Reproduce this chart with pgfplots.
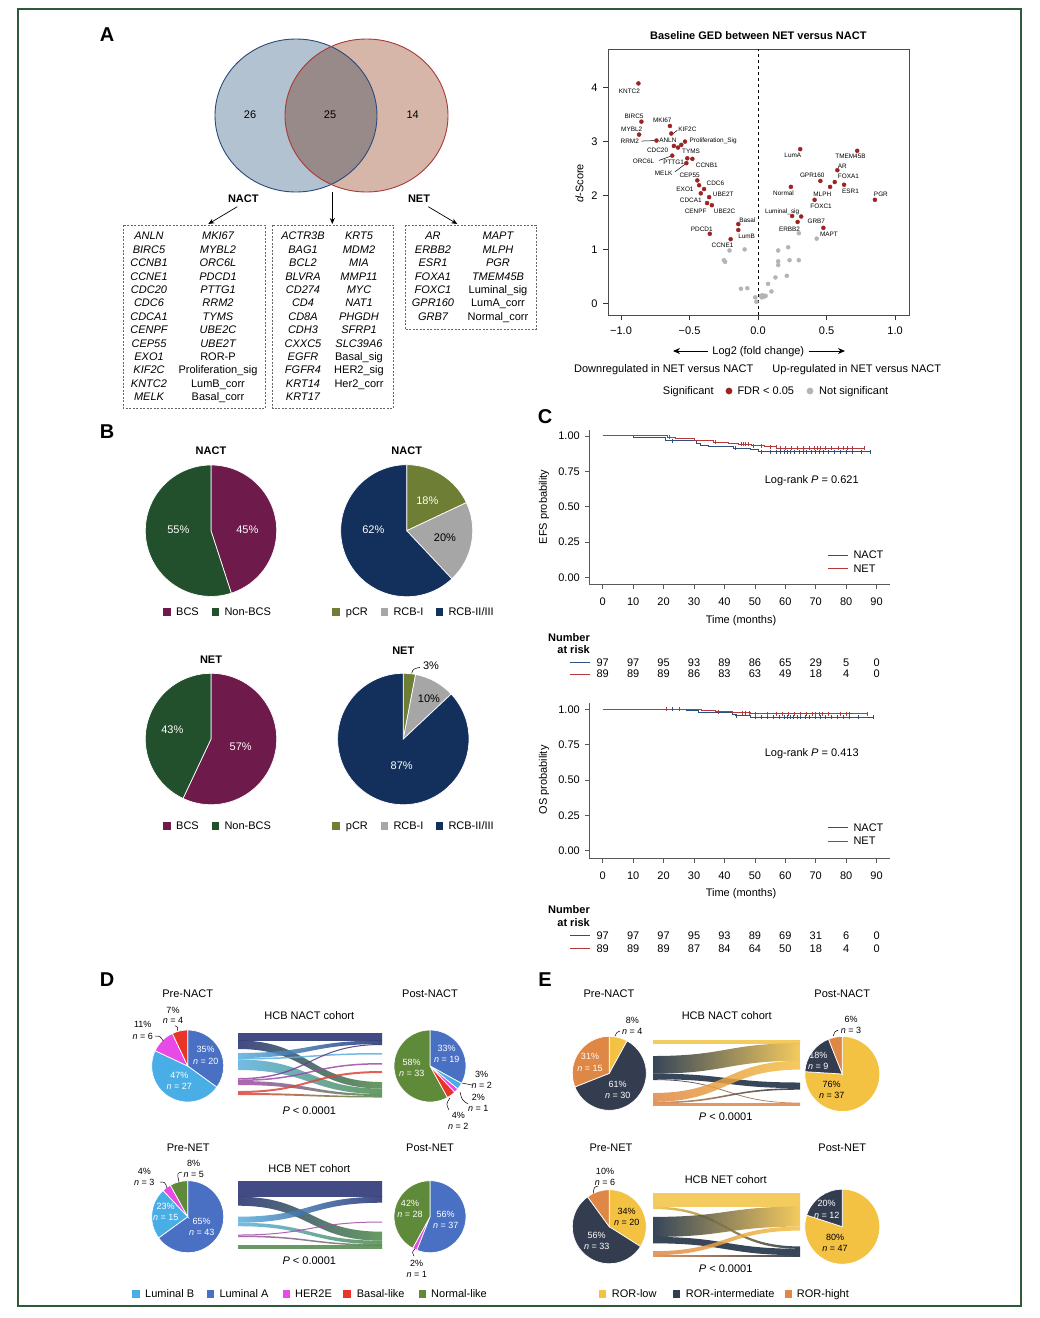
\documentclass[border=0pt]{standalone}
\usepackage{pgfplots}
\pgfplotsset{compat=1.18}
\usepackage{fontspec}
\setmainfont{Liberation Sans}
\usetikzlibrary{arrows.meta}
\definecolor{frameg}{HTML}{2F5A3A}
\definecolor{venL}{HTML}{B3C2D0}
\definecolor{venR}{HTML}{D6B6A8}
\definecolor{venI}{HTML}{988A88}
\definecolor{venLe}{HTML}{2A4A7A}
\definecolor{venRe}{HTML}{A83A3A}
\definecolor{sigred}{HTML}{9B2423}
\definecolor{nsgrey}{HTML}{B4B4B4}
\definecolor{kmblue}{HTML}{2F4F7F}
\definecolor{kmred}{HTML}{B23A3A}
\definecolor{bcs}{HTML}{6E1A4B}
\definecolor{nonbcs}{HTML}{22502D}
\definecolor{pcr}{HTML}{6E7E35}
\definecolor{rcbi}{HTML}{A6A6A6}
\definecolor{rcbii}{HTML}{13305D}
\definecolor{lumb}{HTML}{4AAEE6}
\definecolor{luma}{HTML}{4A70C4}
\definecolor{hertwo}{HTML}{E84AE8}
\definecolor{basal}{HTML}{E8352A}
\definecolor{normal}{HTML}{5E8A3A}
\definecolor{sLA}{HTML}{222C6E}
\definecolor{sLB}{HTML}{5AB0E0}
\definecolor{sH}{HTML}{A24AA6}
\definecolor{sB}{HTML}{E0453A}
\definecolor{sN}{HTML}{4E8A48}
\definecolor{rlow}{HTML}{F3C243}
\definecolor{rint}{HTML}{343D4F}
\definecolor{rhigh}{HTML}{DF8745}
\definecolor{sint}{HTML}{14263D}
\newcommand{\fs}[1]{\fontsize{#1}{#1}\selectfont}
% pie wedge: cx, cy(image), r, p1, p2, colour
\newcommand{\pw}[6]{\fill[#6, draw=white, line width=0.7pt] (#1,-#2) -- ++({90-3.6*(#4)}:#3) arc[start angle={90-3.6*(#4)}, end angle={90-3.6*(#5)}, radius=#3] -- cycle;}
% sankey flow: x0, x1, a1, a2, b1, b2, colL, colR  (image y)
\newcommand{\flow}[8]{\pgfmathsetmacro\xm{(#1+#2)/2}\shade[left color=#7, right color=#8, fill opacity=0.85] (#1,-#3) .. controls (\xm,-#3) and (\xm,-#5) .. (#2,-#5) -- (#2,-#6) .. controls (\xm,-#6) and (\xm,-#4) .. (#1,-#4) -- cycle;}
\newcommand{\lsq}[3]{\fill[#3] (#1,{-#2+3.7}) rectangle ++(7.4,-7.4);}
\tikzset{
 T11/.style={font={\fs{11}}, inner sep=0pt, text height=7.9pt, text depth=0pt},
 T11b/.style={font={\bfseries\fs{11}}, inner sep=0pt, text height=7.9pt, text depth=0pt},
 T9/.style={font={\fs{9}}, inner sep=0pt, text height=6.45pt, text depth=0pt},
 T6/.style={font={\fs{6.4}}, inner sep=0pt, text height=4.6pt, text depth=0pt},
 T20/.style={font={\bfseries\fs{20}}, inner sep=0pt, text height=14.3pt, text depth=0pt},
}
\newcommand{\glist}[2]{\foreach \g [count=\i from 0] in {#2} {\node[T11, font={\fs{11}\itshape}] at (#1,{-236-13.39*\i}) {\g};}}
\begin{document}
\begin{tikzpicture}[x=1pt,y=1pt]
\path[use as bounding box] (0,0) rectangle (1040,-1318);
\fill[white] (0,0) rectangle (1040,-1318);
\draw[frameg, line width=2pt] (18,-9) rectangle (1021,-1306);
% panel letters
\node[T20] at (107,-34) {A};
\node[T20] at (107,-431) {B};
\node[T20] at (545,-416) {C};
\node[T20] at (107,-979) {D};
\node[T20] at (545,-979) {E};
% ---------------- Venn
\fill[venL] (296,-115.5) ellipse [x radius=81, y radius=76.5];
\fill[venR] (366.5,-115.5) ellipse [x radius=81.5, y radius=76.5];
\begin{scope}
\clip (296,-115.5) ellipse [x radius=81, y radius=76.5];
\fill[venI] (366.5,-115.5) ellipse [x radius=81.5, y radius=76.5];
\end{scope}
\draw[venLe, line width=0.9pt] (296,-115.5) ellipse [x radius=81, y radius=76.5];
\draw[venRe, line width=0.9pt] (366.5,-115.5) ellipse [x radius=81.5, y radius=76.5];
\node[T11] at (250,-114.3) {26};
\node[T11] at (330,-114.3) {25};
\node[T11] at (412.7,-114.3) {14};
\node[T11b] at (243.3,-198.3) {NACT};
\node[T11b] at (419,-198.3) {NET};
\draw[-{Stealth[length=6pt,width=5pt]}, line width=0.7pt] (237.3,-206.7) -- (208.3,-224);
\draw[-{Stealth[length=6pt,width=5pt]}, line width=0.7pt] (332.3,-191.7) -- (332.3,-224);
\draw[-{Stealth[length=6pt,width=5pt]}, line width=0.7pt] (428.3,-206.7) -- (457.3,-224);
\draw[black!60, dash pattern=on 2pt off 1.5pt, line width=0.8pt] (123.3,-225) rectangle (265,-408.3);
\draw[black!60, dash pattern=on 2pt off 1.5pt, line width=0.8pt] (272.7,-225) rectangle (393.3,-408.3);
\draw[black!60, dash pattern=on 2pt off 1.5pt, line width=0.8pt] (405,-225) rectangle (536,-329.3);
\glist{149}{ANLN,BIRC5,CCNB1,CCNE1,CDC20,CDC6,CDCA1,CENPF,CEP55,EXO1,KIF2C,KNTC2,MELK}
\glist{218}{MKI67,MYBL2,ORC6L,PDCD1,PTTG1,RRM2,TYMS,UBE2C,UBE2T,{\upshape ROR-P},{\upshape Proliferation\_sig},{\upshape LumB\_corr},{\upshape Basal\_corr}}
\glist{303}{ACTR3B,BAG1,BCL2,BLVRA,CD274,CD4,CD8A,CDH3,CXXC5,EGFR,FGFR4,KRT14,KRT17}
\glist{359}{KRT5,MDM2,MIA,MMP11,MYC,NAT1,PHGDH,SFRP1,SLC39A6,{\upshape Basal\_sig},{\upshape HER2\_sig},{\upshape Her2\_corr}}
\glist{433}{AR,ERBB2,ESR1,FOXA1,FOXC1,GPR160,GRB7}
\glist{498}{MAPT,MLPH,PGR,TMEM45B,{\upshape Luminal\_sig},{\upshape LumA\_corr},{\upshape Normal\_corr}}
% ---------------- Volcano
\node[T11b] at (758.3,-36) {Baseline GED between NET versus NACT};
\begin{axis}[at={(608pt,-315pt)}, anchor=south west, scale only axis, width=301pt, height=266pt,
 xmin=-1.095, xmax=1.102, ymin=-0.217, ymax=4.718,
 xtick={-1,-0.5,0,0.5,1}, xticklabels={−1.0,−0.5,0.0,0.5,1.0},
 ytick={0,1,2,3,4}, yticklabels={0,1,2,3,4}, tick pos=left,
 tick align=outside, major tick length=5pt,
 axis line style={black!70, line width=0.8pt}, tick style={black!80, line width=0.7pt},
 ticklabel style={font={\fs{11}}}, xticklabel style={yshift=-3.5pt}, yticklabel style={xshift=-2pt}, clip=false]
\addplot[dashed, black, line width=0.6pt] coordinates {(0,-0.217) (0,4.718)};
\addplot[only marks, mark=*, mark size=2pt, color=nsgrey] coordinates {
(-0.208,0.98)(-0.098,1.00)(-0.249,0.80)(-0.240,0.77)(-0.125,0.27)(-0.078,0.28)(-0.020,0.11)(-0.012,0.03)(0.022,0.14)(0.034,0.15)(0.027,0.11)(0.042,0.12)(0.056,0.14)(0.073,0.36)(0.098,0.22)(0.127,0.48)(0.147,0.98)(0.147,0.78)(0.147,0.71)(0.210,0.51)(0.220,1.04)(0.230,0.80)(0.298,1.30)(0.298,0.80)(0.428,1.20)};
\addplot[only marks, mark=*, mark size=2pt, color=sigred] coordinates {
(-0.873,4.08)(-0.851,3.37)(-0.868,3.13)(-0.643,3.29)(-0.633,3.15)(-0.741,3.02)(-0.533,3.00)(-0.560,2.94)(-0.614,2.92)(-0.584,2.89)(-0.626,2.74)(-0.516,2.69)(-0.479,2.68)(-0.523,2.60)(-0.443,2.28)(-0.430,2.19)(-0.394,2.12)(-0.418,2.04)(-0.357,1.97)(-0.372,1.86)(-0.337,1.82)(-0.144,1.47)(-0.144,1.36)(-0.352,1.29)(-0.200,1.19)
(0.308,2.86)(0.724,2.83)(0.579,2.47)(0.455,2.27)(0.560,2.25)(0.628,2.20)(0.240,2.16)(0.526,2.16)(0.853,1.92)(0.413,1.92)(0.249,1.62)(0.315,1.61)(0.289,1.51)(0.477,1.40)};
\draw[line width=0.5pt] (axis cs:-0.851,3.01) -- (axis cs:-0.741,3.02);
\draw[line width=0.5pt] (axis cs:-0.619,3.15) -- (axis cs:-0.589,3.21);
\draw[line width=0.5pt] (axis cs:-0.724,2.65) -- (axis cs:-0.626,2.74);
\draw[line width=0.5pt] (axis cs:-0.606,2.44) -- (axis cs:-0.523,2.60);
\node[T6] at (axis cs:-0.939,3.93) {KNTC2};
\node[T6] at (axis cs:-0.905,3.47) {BIRC5};
\node[T6] at (axis cs:-0.699,3.39) {MKI67};
\node[T6] at (axis cs:-0.516,3.23) {KIF2C};
\node[T6] at (axis cs:-0.922,3.23) {MYBL2};
\node[T6] at (axis cs:-0.936,3.00) {RRM2};
\node[T6] at (axis cs:-0.658,3.03) {ANLN};
\node[T6] at (axis cs:-0.328,3.02) {Proliferation\_Sig};
\node[T6] at (axis cs:-0.733,2.84) {CDC20};
\node[T6] at (axis cs:-0.489,2.82) {TYMS};
\node[T6] at (axis cs:-0.836,2.64) {ORC6L};
\node[T6] at (axis cs:-0.616,2.61) {PTTG1};
\node[T6] at (axis cs:-0.374,2.57) {CCNB1};
\node[T6] at (axis cs:-0.689,2.41) {MELK};
\node[T6] at (axis cs:-0.499,2.38) {CEP55};
\node[T6] at (axis cs:-0.311,2.22) {CDC6};
\node[T6] at (axis cs:-0.533,2.11) {EXO1};
\node[T6] at (axis cs:-0.254,2.03) {UBE2T};
\node[T6] at (axis cs:-0.491,1.91) {CDCA1};
\node[T6] at (axis cs:-0.455,1.71) {CENPF};
\node[T6] at (axis cs:-0.244,1.70) {UBE2C};
\node[T6] at (axis cs:-0.078,1.54) {Basal};
\node[T6] at (axis cs:-0.411,1.38) {PDCD1};
\node[T6] at (axis cs:-0.083,1.24) {LumB};
\node[T6] at (axis cs:-0.259,1.07) {CCNE1};
\node[T6] at (axis cs:0.254,2.74) {LumA};
\node[T6] at (axis cs:0.675,2.73) {TMEM45B};
\node[T6] at (axis cs:0.616,2.55) {AR};
\node[T6] at (axis cs:0.396,2.37) {GPR160};
\node[T6] at (axis cs:0.660,2.35) {FOXA1};
\node[T6] at (axis cs:0.675,2.08) {ESR1};
\node[T6] at (axis cs:0.186,2.04) {Normal};
\node[T6] at (axis cs:0.469,2.03) {MLPH};
\node[T6] at (axis cs:0.897,2.02) {PGR};
\node[T6] at (axis cs:0.460,1.81) {FOXC1};
\node[T6] at (axis cs:0.176,1.71) {Luminal\_sig};
\node[T6] at (axis cs:0.425,1.53) {GRB7};
\node[T6] at (axis cs:0.230,1.38) {ERBB2};
\node[T6] at (axis cs:0.518,1.28) {MAPT};
\end{axis}
\node[T11, rotate=90] at (579.3,-183.3) {\textit{d}-Score};
\draw[{Stealth[length=7pt,width=6pt]}-, line width=0.8pt] (673,-351) -- (708,-351);
\node[T11] at (758.3,-351) {Log2 (fold change)};
\draw[-{Stealth[length=7pt,width=6pt]}, line width=0.8pt] (808.5,-351) -- (845,-351);
\node[T11] at (663.7,-368.3) {Downregulated in NET versus NACT};
\node[T11] at (856.7,-368.3) {Up-regulated in NET versus NACT};
\node[T11] at (688.3,-391) {Significant};
\fill[sigred] (729,-391) circle (3.4);
\node[T11, anchor=west] at (737.3,-391) {FDR < 0.05};
\fill[nsgrey] (810,-391) circle (3.4);
\node[T11, anchor=west] at (819,-391) {Not significant};
% ---------------- Panel B pies
\node[T11b] at (211,-450.7) {NACT};
\node[T11b] at (406.7,-450.7) {NACT};
\node[T11b] at (211,-659.3) {NET};
\node[T11b] at (403.3,-651) {NET};
\pw{211}{530.7}{65.7}{0}{45}{bcs}
\pw{211}{530.7}{65.7}{45}{100}{nonbcs}
\pw{406.7}{530.7}{66}{0}{18}{pcr}
\pw{406.7}{530.7}{66}{18}{38}{rcbi}
\pw{406.7}{530.7}{66}{38}{100}{rcbii}
\pw{211}{739}{65.7}{0}{57}{bcs}
\pw{211}{739}{65.7}{57}{100}{nonbcs}
\pw{403.3}{739}{65.7}{0}{3}{pcr}
\pw{403.3}{739}{65.7}{3}{13}{rcbi}
\pw{403.3}{739}{65.7}{13}{100}{rcbii}
\node[T11, white] at (178.3,-530) {55\%};
\node[T11, white] at (247.3,-530) {45\%};
\node[T11, white] at (427.3,-501) {18\%};
\node[T11] at (445,-537.3) {20\%};
\node[T11, white] at (373.3,-530) {62\%};
\node[T11, white] at (172.3,-730) {43\%};
\node[T11, white] at (240.7,-746.7) {57\%};
\node[T11] at (431,-665.7) {3\%};
\draw[line width=0.5pt] (411.7,-673.3) .. controls (413,-669) .. (420,-667.3);
\node[T11] at (429,-699) {10\%};
\node[T11, white] at (401.7,-765.7) {87\%};
\foreach \yy in {612,826} {
 \lsq{163.3}{\yy}{bcs} \node[T11, anchor=west] at (176,-\yy) {BCS};
 \lsq{211.7}{\yy}{nonbcs} \node[T11, anchor=west] at (224.3,-\yy) {Non-BCS};
 \lsq{332.3}{\yy}{pcr} \node[T11, anchor=west] at (345.7,-\yy) {pCR};
 \lsq{381}{\yy}{rcbi} \node[T11, anchor=west] at (393.3,-\yy) {RCB-I};
 \lsq{435.7}{\yy}{rcbii} \node[T11, anchor=west] at (448.3,-\yy) {RCB-II/III};
}
% ---------------- Panel C: EFS
\begin{axis}[at={(589.3pt,-584.3pt)}, anchor=south west, scale only axis, width=300.7pt, height=154.3pt,
 xmin=-4.4, xmax=94.4, ymin=-0.0495, ymax=1.042,
 axis x line*=bottom, axis y line*=left, axis line style={-, black!65, line width=0.8pt},
 xtick={0,10,20,30,40,50,60,70,80,90}, xticklabels={0,10,20,30,40,50,60,70,80,90},
 ytick={0,0.25,0.5,0.75,1}, yticklabels={0.00,0.25,0.50,0.75,1.00},
 tick align=outside, major tick length=4.5pt, tick style={black!65, line width=0.7pt},
 ticklabel style={font={\fs{11}}}, xticklabel style={yshift=-5.5pt}, yticklabel style={xshift=-1.5pt}, clip=false]
\addplot[const plot, kmblue, line width=0.9pt] coordinates {(0,1)(10,0.988)(20.7,0.965)(30.9,0.948)(32,0.934)(34.7,0.925)(43,0.913)(48.5,0.901)(51.3,0.889)(88,0.889)};
\addplot[const plot, kmred, line width=0.9pt] coordinates {(0,1)(21.3,0.99)(23.8,0.979)(30.3,0.967)(36.4,0.955)(41.3,0.946)(44.6,0.94)(48.9,0.93)(53,0.925)(57.2,0.913)(86.2,0.913)};
\addplot[only marks, mark=|, mark size=2pt, kmblue, line width=0.5pt] coordinates {(23,0.965)(43.5,0.913)(52,0.889)(55,0.889)(57,0.889)(58.5,0.889)(59.5,0.889)(60.5,0.889)(61.5,0.889)(63,0.889)(64.5,0.889)(66,0.889)(67,0.889)(68.5,0.889)(70,0.889)(71,0.889)(72.5,0.889)(74,0.889)(76,0.889)(78,0.889)(80,0.889)(82,0.889)(85,0.889)(88,0.889)};
\addplot[only marks, mark=|, mark size=2pt, kmred, line width=0.5pt] coordinates {(21.8,0.99)(37,0.955)(45.5,0.94)(46.3,0.94)(47,0.94)(47.8,0.94)(49.5,0.93)(52,0.93)(55,0.925)(57,0.925)(58.5,0.913)(60,0.913)(62,0.913)(64,0.913)(66,0.913)(68,0.913)(69.5,0.913)(70.5,0.913)(71.5,0.913)(73,0.913)(75,0.913)(77.5,0.913)(79,0.913)(80.5,0.913)(82,0.913)(86,0.913)};
\end{axis}
\node[T11] at (741,-620) {Time (months)};
\node[T11, rotate=90] at (543,-507) {EFS probability};
\node[T11] at (811.7,-480) {Log-rank \textit{P} = 0.621};
\draw[kmblue, line width=0.9pt] (828.3,-555) -- (848.3,-555);
\draw[kmred, line width=0.9pt] (828.3,-568.3) -- (848.3,-568.3);
\node[T11, anchor=west] at (853.3,-555) {NACT};
\node[T11, anchor=west] at (853.3,-568.3) {NET};
\node[T11b, anchor=east] at (590,-637.3) {Number};
\node[T11b, anchor=east] at (590,-649.3) {at risk};
\draw[kmblue, line width=0.9pt] (570,-662.3) -- (590,-662.3);
\draw[kmred, line width=0.9pt] (570,-674) -- (590,-674);
\foreach \v [count=\k from 0] in {97,97,95,93,89,86,65,29,5,0} {\node[T11] at ({602.7+30.44*\k},-662.3) {\v};}
\foreach \v [count=\k from 0] in {89,89,89,86,83,63,49,18,4,0} {\node[T11] at ({602.7+30.44*\k},-674) {\v};}
% ---------------- Panel C: OS
\begin{axis}[at={(589.3pt,-858.3pt)}, anchor=south west, scale only axis, width=300.7pt, height=155pt,
 xmin=-4.4, xmax=94.4, ymin=-0.054, ymax=1.042,
 axis x line*=bottom, axis y line*=left, axis line style={-, black!65, line width=0.8pt},
 xtick={0,10,20,30,40,50,60,70,80,90}, xticklabels={0,10,20,30,40,50,60,70,80,90},
 ytick={0,0.25,0.5,0.75,1}, yticklabels={0.00,0.25,0.50,0.75,1.00},
 tick align=outside, major tick length=4.5pt, tick style={black!65, line width=0.7pt},
 ticklabel style={font={\fs{11}}}, xticklabel style={yshift=-5.5pt}, yticklabel style={xshift=-1.5pt}, clip=false]
\addplot[const plot, kmblue, line width=0.9pt] coordinates {(0,1)(27.6,0.99)(31.5,0.98)(37,0.975)(42.5,0.965)(43.5,0.955)(48.5,0.942)(89,0.942)};
\addplot[const plot, kmred, line width=0.9pt] coordinates {(0,1)(32.5,0.99)(37,0.983)(42.5,0.977)(48.5,0.969)(87,0.969)};
\addplot[only marks, mark=|, mark size=2pt, kmblue, line width=0.5pt] coordinates {(23,1)(44,0.955)(50,0.942)(52,0.942)(54,0.942)(56,0.942)(58,0.942)(59.5,0.942)(60.5,0.942)(61.5,0.942)(62.5,0.942)(64,0.942)(65,0.942)(66.5,0.942)(68,0.942)(70,0.942)(71.5,0.942)(73,0.942)(75,0.942)(77,0.942)(79,0.942)(81,0.942)(84,0.942)(89,0.942)};
\addplot[only marks, mark=|, mark size=2pt, kmred, line width=0.5pt] coordinates {(21,1)(25,1)(38,0.983)(46,0.977)(47,0.977)(48,0.977)(50,0.969)(54,0.969)(57,0.969)(59,0.969)(61,0.969)(63,0.969)(65,0.969)(67,0.969)(69,0.969)(70,0.969)(71,0.969)(72,0.969)(74,0.969)(78,0.969)(80,0.969)(81,0.969)(87,0.969)};
\end{axis}
\node[T11] at (741,-892.3) {Time (months)};
\node[T11, rotate=90] at (543,-780) {OS probability};
\node[T11] at (811.7,-752.3) {Log-rank \textit{P} = 0.413};
\draw[kmblue, line width=0.9pt] (828.3,-827.7) -- (848.3,-827.7);
\draw[kmred, line width=0.9pt] (828.3,-841) -- (848.3,-841);
\node[T11, anchor=west] at (853.3,-827.7) {NACT};
\node[T11, anchor=west] at (853.3,-841) {NET};
\node[T11b, anchor=east] at (590,-909.3) {Number};
\node[T11b, anchor=east] at (590,-922.3) {at risk};
\draw[kmblue, line width=0.9pt] (570,-935.7) -- (590,-935.7);
\draw[kmred, line width=0.9pt] (570,-948.3) -- (590,-948.3);
\foreach \v [count=\k from 0] in {97,97,97,95,93,89,69,31,6,0} {\node[T11] at ({602.7+30.44*\k},-935.7) {\v};}
\foreach \v [count=\k from 0] in {89,89,89,87,84,64,50,18,4,0} {\node[T11] at ({602.7+30.44*\k},-948.3) {\v};}
% ---------------- Panel D
\node[T11] at (187.7,-993.3) {Pre-NACT};
\node[T11] at (430,-993.3) {Post-NACT};
\node[T11] at (309.3,-1016) {HCB NACT cohort};
\node[T11] at (309.3,-1111) {\textit{P} < 0.0001};
\pw{187.7}{1066}{36}{0}{35}{luma}
\pw{187.7}{1066}{36}{35}{82}{lumb}
\pw{187.7}{1066}{36}{82}{93}{hertwo}
\pw{187.7}{1066}{36}{93}{100}{basal}
\pw{430}{1066}{36}{0}{33}{luma}
\pw{430}{1066}{36}{33}{36}{lumb}
\pw{430}{1066}{36}{36}{38}{hertwo}
\pw{430}{1066}{36}{38}{42}{basal}
\pw{430}{1066}{36}{42}{100}{normal}
\node[T9, white] at (205.7,-1049.3) {35\%};
\node[T9, white] at (205.7,-1061) {\textit{n} = 20};
\node[T9, white] at (179.3,-1075.7) {47\%};
\node[T9, white] at (179.3,-1086.7) {\textit{n} = 27};
\node[T9] at (142.7,-1024.3) {11\%};
\node[T9] at (142.7,-1036.3) {\textit{n} = 6};
\node[T9] at (173,-1010) {7\%};
\node[T9] at (173,-1020.7) {\textit{n} = 4};
\draw[line width=0.5pt] (155,-1036) .. controls (160,-1036) .. (163.3,-1041);
\draw[line width=0.5pt] (175,-1025.7) .. controls (178,-1027) .. (177.3,-1030.7);
\node[T9, white] at (446.7,-1048.3) {33\%};
\node[T9, white] at (446.7,-1059.3) {\textit{n} = 19};
\node[T9, white] at (411.7,-1062.3) {58\%};
\node[T9, white] at (411.7,-1073.3) {\textit{n} = 33};
\node[T9] at (481.7,-1074.3) {3\%};
\node[T9] at (481.7,-1085.7) {\textit{n} = 2};
\node[T9] at (478.3,-1097.3) {2\%};
\node[T9] at (478.3,-1108.7) {\textit{n} = 1};
\node[T9] at (458.3,-1115.7) {4\%};
\node[T9] at (458.3,-1126.3) {\textit{n} = 2};
\draw[line width=0.5pt] (472,-1085) -- (462,-1083);
\draw[line width=0.5pt] (468,-1104) .. controls (462,-1100) .. (460,-1092);
\draw[line width=0.5pt] (449,-1110) .. controls (446,-1104) .. (450,-1098);
% sankey D NACT
\flow{238}{382}{1033}{1040.5}{1033}{1040.5}{sLA}{sLA}
\flow{238}{382}{1040.5}{1049}{1082}{1088.5}{sLA}{sN}
\flow{238}{382}{1053}{1058}{1040.5}{1044}{sLB}{sLA}
\flow{238}{382}{1058}{1059.5}{1053}{1054.5}{sLB}{sLB}
\flow{238}{382}{1059.5}{1070}{1088.5}{1094}{sLB}{sN}
\flow{238}{382}{1078}{1079.5}{1044}{1045}{sH}{sLA}
\flow{238}{382}{1079.5}{1081}{1063}{1064.5}{sH}{sH}
\flow{238}{382}{1081}{1085}{1094}{1096}{sH}{sN}
\flow{238}{382}{1091}{1093}{1071}{1073}{sB}{sB}
\flow{238}{382}{1093}{1095}{1096}{1097.5}{sB}{sN}
% D NET
\node[T11] at (188.3,-1147.3) {Pre-NET};
\node[T11] at (430,-1147.3) {Post-NET};
\node[T11] at (309.3,-1168.3) {HCB NET cohort};
\node[T11] at (309.3,-1261) {\textit{P} < 0.0001};
\pw{187.7}{1216.7}{36}{0}{65}{luma}
\pw{187.7}{1216.7}{36}{65}{88}{lumb}
\pw{187.7}{1216.7}{36}{88}{92}{hertwo}
\pw{187.7}{1216.7}{36}{92}{100}{normal}
\pw{430}{1216.7}{36}{0}{56}{luma}
\pw{430}{1216.7}{36}{56}{58}{hertwo}
\pw{430}{1216.7}{36}{58}{100}{normal}
\node[T9, white] at (201.7,-1221.7) {65\%};
\node[T9, white] at (201.7,-1232.7) {\textit{n} = 43};
\node[T9, white] at (165.7,-1206.7) {23\%};
\node[T9, white] at (165.7,-1217.7) {\textit{n} = 15};
\node[T9] at (144.3,-1171.7) {4\%};
\node[T9] at (144.3,-1182.7) {\textit{n} = 3};
\node[T9] at (193.7,-1163.3) {8\%};
\node[T9] at (193.7,-1174.3) {\textit{n} = 5};
\draw[line width=0.5pt] (160,-1182) .. controls (165,-1182) .. (167,-1188);
\draw[line width=0.5pt] (182,-1172) .. controls (177,-1173) .. (179,-1182);
\node[T9, white] at (445.7,-1214.3) {56\%};
\node[T9, white] at (445.7,-1225.7) {\textit{n} = 37};
\node[T9, white] at (410,-1203.3) {42\%};
\node[T9, white] at (410,-1214.3) {\textit{n} = 28};
\node[T9] at (416.7,-1263.3) {2\%};
\node[T9] at (416.7,-1274.3) {\textit{n} = 1};
\draw[line width=0.5pt] (414,-1256) .. controls (412,-1252) .. (415,-1249);
\flow{238}{382}{1181.7}{1196.7}{1181.7}{1196.7}{sLA}{sLA}
\flow{238}{382}{1196.7}{1205.7}{1231.7}{1240.7}{sLA}{sN}
\flow{238}{382}{1216.7}{1222.7}{1196.7}{1202.7}{sLB}{sLA}
\flow{238}{382}{1222.7}{1226.2}{1240.7}{1244.2}{sLB}{sN}
\flow{238}{382}{1234.5}{1235.5}{1221.5}{1222.5}{sH}{sH}
\flow{238}{382}{1235.5}{1237}{1244.2}{1245.7}{sH}{sN}
\flow{238}{382}{1245.7}{1248.3}{1245.7}{1248.3}{sN}{sN}
% D legend
\lsq{132.3}{1294}{lumb} \node[T11, anchor=west] at (145,-1294) {Luminal B};
\lsq{206.7}{1294}{luma} \node[T11, anchor=west] at (219.3,-1294) {Luminal A};
\lsq{282.7}{1294}{hertwo} \node[T11, anchor=west] at (295,-1294) {HER2E};
\lsq{343.3}{1294}{basal} \node[T11, anchor=west] at (356.7,-1294) {Basal-like};
\lsq{419}{1294}{normal} \node[T11, anchor=west] at (431,-1294) {Normal-like};
% ---------------- Panel E
\node[T11] at (609,-993.3) {Pre-NACT};
\node[T11] at (842.3,-993.3) {Post-NACT};
\node[T11] at (726.7,-1016) {HCB NACT cohort};
\node[T11] at (725.7,-1116.7) {\textit{P} < 0.0001};
\pw{609.3}{1073.3}{37}{0}{8}{rlow}
\pw{609.3}{1073.3}{37}{8}{69}{rint}
\pw{609.3}{1073.3}{37}{69}{100}{rhigh}
\pw{842.3}{1074}{37.5}{0}{76}{rlow}
\pw{842.3}{1074}{37.5}{76}{94}{rint}
\pw{842.3}{1074}{37.5}{94}{100}{rhigh}
\node[T9, white] at (590,-1056.7) {31\%};
\node[T9, white] at (590,-1068.3) {\textit{n} = 15};
\node[T9, white] at (617.7,-1084) {61\%};
\node[T9, white] at (617.7,-1095) {\textit{n} = 30};
\node[T9] at (632.3,-1020.7) {8\%};
\node[T9] at (632.3,-1031) {\textit{n} = 4};
\draw[line width=0.5pt] (620,-1031) .. controls (617,-1032) .. (615,-1036);
\node[T9, white] at (818.3,-1055.7) {18\%};
\node[T9, white] at (818.3,-1066) {\textit{n} = 9};
\node[T9] at (831.7,-1084) {76\%};
\node[T9] at (831.7,-1095) {\textit{n} = 37};
\node[T9] at (851,-1019.3) {6\%};
\node[T9] at (851,-1030) {\textit{n} = 3};
\draw[line width=0.5pt] (838.3,-1030) .. controls (835,-1031) .. (833.3,-1036);
\flow{653}{800}{1040}{1043.2}{1040}{1043.2}{rlow}{rlow}
\flow{653}{800}{1056}{1073.6}{1043.2}{1060.8}{sint}{rlow}
\flow{653}{800}{1073.6}{1079.2}{1082.5}{1088.1}{sint}{sint}
\flow{653}{800}{1079.2}{1080}{1102.6}{1103.4}{sint}{rhigh}
\flow{653}{800}{1093}{1101.8}{1060.8}{1069.6}{rhigh}{rlow}
\flow{653}{800}{1101.8}{1103.4}{1088.1}{1089.7}{rhigh}{sint}
\flow{653}{800}{1103.4}{1105}{1103.4}{1105}{rhigh}{rhigh}
\node[T11] at (611,-1147.3) {Pre-NET};
\node[T11] at (842.3,-1147.3) {Post-NET};
\node[T11] at (725.7,-1179.3) {HCB NET cohort};
\node[T11] at (725.7,-1268.3) {\textit{P} < 0.0001};
\pw{609.3}{1226.7}{37}{0}{34}{rlow}
\pw{609.3}{1226.7}{37}{34}{90}{rint}
\pw{609.3}{1226.7}{37}{90}{100}{rhigh}
\pw{842.3}{1226.7}{37.5}{0}{80}{rlow}
\pw{842.3}{1226.7}{37.5}{80}{100}{rint}
\node[T9] at (605,-1171.7) {10\%};
\node[T9] at (605,-1182.7) {\textit{n} = 6};
\draw[line width=0.5pt] (598.3,-1186) .. controls (594,-1187) .. (593.3,-1193.3);
\node[T9] at (626.7,-1211.7) {34\%};
\node[T9] at (626.7,-1222.7) {\textit{n} = 20};
\node[T9, white] at (596.7,-1235) {56\%};
\node[T9, white] at (596.7,-1246) {\textit{n} = 33};
\node[T9, white] at (826.7,-1203.3) {20\%};
\node[T9, white] at (826.7,-1215) {\textit{n} = 12};
\node[T9] at (835,-1237.3) {80\%};
\node[T9] at (835,-1248.3) {\textit{n} = 47};
\flow{653}{800}{1193}{1206.6}{1193}{1206.6}{rlow}{rlow}
\flow{653}{800}{1206.6}{1209}{1246.4}{1248.8}{rlow}{sint}
\flow{653}{800}{1216.9}{1236.9}{1206.6}{1226.6}{sint}{rlow}
\flow{653}{800}{1236.9}{1243.3}{1248.8}{1255.2}{sint}{sint}
\flow{653}{800}{1251.2}{1255.2}{1226.6}{1230.6}{rhigh}{rlow}
\flow{653}{800}{1255.2}{1256}{1255.2}{1256}{rhigh}{sint}
\lsq{599}{1294}{rlow} \node[T11, anchor=west] at (611.7,-1294) {ROR-low};
\lsq{672.7}{1294}{rint} \node[T11, anchor=west] at (685.7,-1294) {ROR-intermediate};
\lsq{785}{1294}{rhigh} \node[T11, anchor=west] at (796.7,-1294) {ROR-hight};
\end{tikzpicture}
\end{document}
